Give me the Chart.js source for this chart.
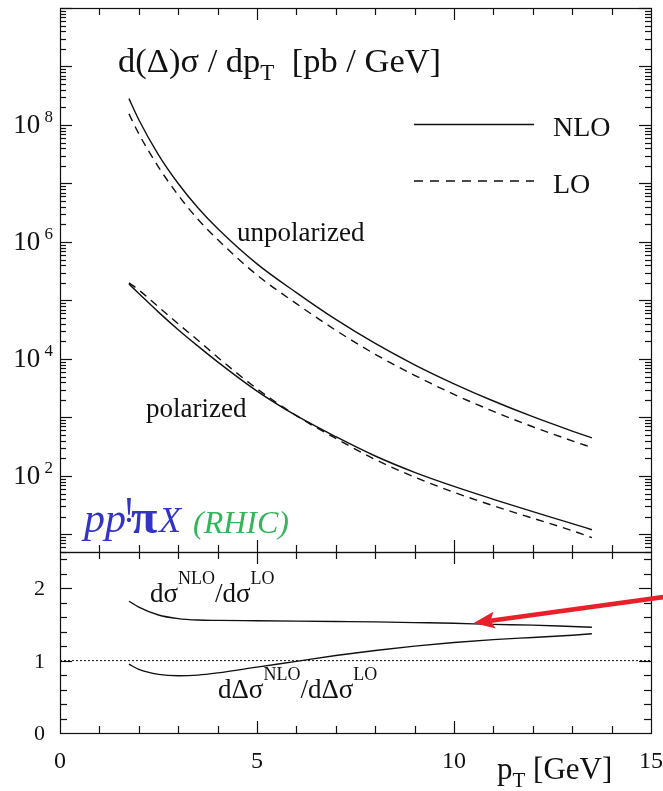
<!DOCTYPE html>
<html><head><meta charset="utf-8">
<script src="https://cdn.jsdelivr.net/npm/chart.js@4.4.1/dist/chart.umd.min.js"></script>
<style>
html,body{margin:0;padding:0;background:#fff;}
#wrap{position:relative;width:663px;height:791px;overflow:hidden;background:#fff;}
canvas{position:absolute;left:0;top:0;}
</style></head><body>
<div id="wrap"><canvas id="cTop" width="663" height="791"></canvas><canvas id="cBot" width="663" height="791"></canvas></div>
<script>
// ---- data ----
const pT = [1.75, 2, 2.5, 3, 3.5, 4, 5, 6, 7, 8, 9, 10, 11, 12, 13, 13.5];
const unpolNLO = [2.82e8, 1.23e8, 3.09e7, 1.0e7, 3.85e6, 1.70e6, 4.22e5, 1.36e5, 4.73e4, 1.84e4, 7.94e3, 3.76e3, 1.91e3, 1.03e3, 585, 447];
const unpolLO  = [1.55e8, 7.08e7, 1.91e7, 6.31e6, 2.45e6, 1.10e6, 2.72e5, 8.81e4, 3.09e4, 1.20e4, 5.25e3, 2.48e3, 1.27e3, 692, 398, 306];
const polNLO   = [1.91e5, 1.32e5, 6.31e4, 3.16e4, 1.66e4, 8.91e3, 2.82e3, 1.07e3, 468, 219, 115, 66.1, 39.8, 24.5, 15.3, 12.0];
const polLO    = [2.0e5, 1.51e5, 7.76e4, 3.98e4, 2.09e4, 1.07e4, 3.09e3, 1.07e3, 437, 191, 95.5, 52.5, 30.9, 18.9, 11.6, 8.8];
const ratioUnpol = [1.82, 1.74, 1.63, 1.58, 1.56, 1.555, 1.55, 1.545, 1.54, 1.535, 1.525, 1.515, 1.50, 1.49, 1.47, 1.46];
const ratioPol   = [0.95, 0.88, 0.81, 0.79, 0.80, 0.83, 0.91, 0.99, 1.07, 1.14, 1.20, 1.25, 1.29, 1.32, 1.35, 1.37];
const unityX = [0, 15];
const unityY = [1, 1];
const xTickLabels = ['0', '5', '10', '15'];
const xTickValues = [0, 5, 10, 15];
const yTopDecades = [2, 4, 6, 8];
const yBotLabels = ['0', '1', '2'];
const yBotValues = [0, 1, 2];
const arrowTip = [10.5, 1.52];
const arrowTail = [15.75, 1.91];

const SERIF = '"Liberation Serif","Times New Roman",serif';
const INK = '#111';

function pts(xs, ys){ return xs.map((x,i)=>({x:x, y:ys[i]})); }
function rich(ctx, x, y, parts, align){
  let w = 0;
  parts.forEach(p=>{ ctx.font = p[1]; w += ctx.measureText(p[0]).width; });
  let cx = align==='right' ? x-w : (align==='center' ? x-w/2 : x);
  parts.forEach(p=>{ ctx.font = p[1]; ctx.fillText(p[0], cx, y + (p[2]||0)); cx += ctx.measureText(p[0]).width; });
}
function line(ctx,x1,y1,x2,y2){ ctx.beginPath(); ctx.moveTo(x1,y1); ctx.lineTo(x2,y2); ctx.stroke(); }
function xTicks(ctx, xs, yEdge, dir){
  for(let i=1;i<15;i++){
    const px = Math.round(xs.getPixelForValue(i))+0.5;
    const len = (i%5===0) ? 12 : 7;
    line(ctx, px, yEdge, px, yEdge + dir*len);
  }
}
function lineDs(data, dashed, w){
  return {data:data, borderColor:INK, borderWidth:w||1.4, pointRadius:0, fill:false,
          cubicInterpolationMode:'monotone', borderDash: dashed||[] };
}

const decoTop = {
  id:'decoTop',
  afterDraw(chart){
    const ctx = chart.ctx, a = chart.chartArea, xs = chart.scales.x, ys = chart.scales.y;
    ctx.save();
    ctx.strokeStyle = INK; ctx.fillStyle = INK; ctx.lineWidth = 1.2;
    ctx.strokeRect(a.left+0.5, a.top+0.5, a.right-a.left, a.bottom-a.top);
    for(let d=0; d<=10; d++){
      for(let m=1; m<=9; m++){
        const v = m*Math.pow(10,d);
        if(v < ys.min || v > ys.max) continue;
        const py = Math.round(ys.getPixelForValue(v))+0.5;
        const len = m===1 ? 12 : 6;
        line(ctx, a.left, py, a.left+len, py);
        line(ctx, a.right, py, a.right-len, py);
      }
    }
    xTicks(ctx, xs, a.top, 1);
    xTicks(ctx, xs, a.bottom, -1);
    ctx.textBaseline = 'alphabetic';
    yTopDecades.forEach(d=>{
      const py = ys.getPixelForValue(Math.pow(10,d));
      rich(ctx, 53, py+8, [['10','27px '+SERIF,0],[' ','17px '+SERIF,0],[String(d),'17px '+SERIF,-11]], 'right');
    });
    rich(ctx, 118, 72, [['d(\u0394)\u03c3 / dp','34.5px '+SERIF,0],['T','23px '+SERIF,8],['  [pb / GeV]','34.5px '+SERIF,0]], 'left');
    ctx.lineWidth = 1.4;
    line(ctx, 414, 124.5, 534, 124.5);
    ctx.setLineDash([9,7]);
    line(ctx, 414, 181, 534, 181);
    ctx.setLineDash([]);
    ctx.font = '28px '+SERIF;
    ctx.fillText('NLO', 553, 136);
    ctx.fillText('LO', 553, 193);
    ctx.font = '27px '+SERIF;
    ctx.fillText('unpolarized', 237, 241);
    ctx.fillText('polarized', 146, 417);
    // process label
    ctx.fillStyle = '#3434c4';
    ctx.font = 'italic 42px '+SERIF; ctx.fillText('pp', 84, 532);
    ctx.font = '36px '+SERIF; ctx.fillText('!', 123, 522);
    ctx.font = 'bold 48px '+SERIF; ctx.fillText('\u03c0', 131, 533);
    ctx.font = 'italic 36px '+SERIF; ctx.fillText('X', 159, 532);
    ctx.fillStyle = '#33b55a';
    ctx.font = 'italic 32px '+SERIF;
    ctx.fillText('(RHIC)', 193, 533);
    ctx.restore();
  }
};

const decoBot = {
  id:'decoBot',
  afterDraw(chart){
    const ctx = chart.ctx, a = chart.chartArea, xs = chart.scales.x, ys = chart.scales.y;
    ctx.save();
    ctx.strokeStyle = INK; ctx.fillStyle = INK; ctx.lineWidth = 1.2;
    ctx.strokeRect(a.left+0.5, a.top+0.5, a.right-a.left, a.bottom-a.top);
    for(let k=1;k<=12;k++){
      const v = k*0.2;
      const py = Math.round(ys.getPixelForValue(v))+0.5;
      const len = (k%5===0) ? 12 : 7;
      line(ctx, a.left, py, a.left+len, py);
      line(ctx, a.right, py, a.right-len, py);
    }
    xTicks(ctx, xs, a.top, 1);
    xTicks(ctx, xs, a.bottom, -1);
    ctx.textBaseline = 'alphabetic';
    ctx.font = '22px '+SERIF; ctx.textAlign = 'right';
    yBotValues.forEach((v,i)=>{ ctx.fillText(yBotLabels[i], 45, ys.getPixelForValue(v)+7); });
    ctx.textAlign = 'center'; ctx.font = '24px '+SERIF;
    xTickValues.forEach((v,i)=>{ ctx.fillText(xTickLabels[i], xs.getPixelForValue(v), 768); });
    ctx.textAlign = 'left';
    rich(ctx, 497, 779, [['p','31px '+SERIF,0],['T','21px '+SERIF,8],[' [GeV]','31px '+SERIF,0]], 'left');
    rich(ctx, 150, 602, [['d\u03c3','27px '+SERIF,0],['NLO','18px '+SERIF,-18],['/d\u03c3','27px '+SERIF,0],['LO','18px '+SERIF,-18]], 'left');
    rich(ctx, 218, 698, [['d\u0394\u03c3','27px '+SERIF,0],['NLO','18px '+SERIF,-18],['/d\u0394\u03c3','27px '+SERIF,0],['LO','18px '+SERIF,-18]], 'left');
    // red arrow
    const tx = xs.getPixelForValue(arrowTip[0]), ty = ys.getPixelForValue(arrowTip[1]);
    const sx = xs.getPixelForValue(arrowTail[0]), sy = ys.getPixelForValue(arrowTail[1]);
    const ang = Math.atan2(ty-sy, tx-sx);
    const hl = 21, hw = 8.5;
    const bx = tx - hl*Math.cos(ang), by = ty - hl*Math.sin(ang);
    ctx.strokeStyle = '#e8202a'; ctx.fillStyle = '#e8202a'; ctx.lineWidth = 4.5;
    line(ctx, sx, sy, bx + 4*Math.cos(ang), by + 4*Math.sin(ang));
    ctx.beginPath();
    ctx.moveTo(tx, ty);
    ctx.lineTo(bx - hw*Math.sin(ang), by + hw*Math.cos(ang));
    ctx.lineTo(bx + 4*Math.cos(ang), by + 4*Math.sin(ang));
    ctx.lineTo(bx + hw*Math.sin(ang), by - hw*Math.cos(ang));
    ctx.closePath(); ctx.fill();
    ctx.restore();
  }
};

const common = {
  responsive:false, animation:false, devicePixelRatio:1, events:[],
  plugins:{legend:{display:false}, tooltip:{enabled:false}}
};

new Chart(document.getElementById('cTop'), {
  type:'line',
  data:{datasets:[
    lineDs(pts(pT, unpolNLO)),
    lineDs(pts(pT, unpolLO), [8,6]),
    lineDs(pts(pT, polNLO)),
    lineDs(pts(pT, polLO), [8,6])
  ]},
  options:Object.assign({}, common, {
    layout:{padding:{left:60, right:12, top:8, bottom:239}},
    scales:{
      x:{type:'linear', min:0, max:15, display:false},
      y:{type:'logarithmic', min:5, max:1e10, display:false}
    }
  }),
  plugins:[decoTop]
});

new Chart(document.getElementById('cBot'), {
  type:'line',
  data:{datasets:[
    lineDs(pts(pT, ratioUnpol)),
    lineDs(pts(pT, ratioPol)),
    Object.assign(lineDs(pts(unityX, unityY), [2,2], 1), {cubicInterpolationMode:'default', tension:0})
  ]},
  options:Object.assign({}, common, {
    layout:{padding:{left:60, right:12, top:552, bottom:58}},
    scales:{
      x:{type:'linear', min:0, max:15, display:false},
      y:{type:'linear', min:0, max:2.5, display:false}
    }
  }),
  plugins:[decoBot]
});
</script>
</body></html>
